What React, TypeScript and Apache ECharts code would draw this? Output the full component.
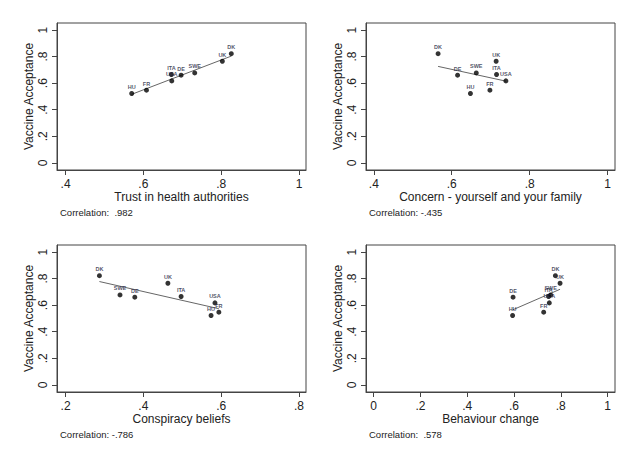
import React, { useEffect, useRef } from "react";
import * as echarts from "echarts";

const countries = ["HU", "FR", "USA", "ITA", "DE", "SWE", "UK", "DK"];
const acceptance = [0.522, 0.547, 0.617, 0.665, 0.66, 0.677, 0.765, 0.822];
const trust = [0.57, 0.608, 0.673, 0.672, 0.697, 0.732, 0.803, 0.826];
const concern = [0.648, 0.698, 0.739, 0.715, 0.615, 0.663, 0.714, 0.565];
const conspiracy = [0.574, 0.594, 0.584, 0.497, 0.378, 0.34, 0.463, 0.287];
const behaviour = [0.594, 0.727, 0.751, 0.748, 0.596, 0.757, 0.797, 0.777];

const xTitles = [
  "Trust in health authorities",
  "Concern - yourself and your family",
  "Conspiracy beliefs",
  "Behaviour change",
];
const correlations = ["Correlation:  .982", "Correlation: -.435", "Correlation: -.786", "Correlation:  .578"];
const xTicks = [
  [0.4, 0.6, 0.8, 1],
  [0.4, 0.6, 0.8, 1],
  [0.2, 0.4, 0.6, 0.8],
  [0, 0.2, 0.4, 0.6, 0.8, 1],
];
const yTicks = [0, 0.2, 0.4, 0.6, 0.8, 1];

function fitLine(xs: number[], ys: number[]) {
  const n = xs.length;
  const mx = xs.reduce((a, b) => a + b, 0) / n;
  const my = ys.reduce((a, b) => a + b, 0) / n;
  let sxy = 0, sxx = 0;
  for (let i = 0; i < n; i++) {
    sxy += (xs[i] - mx) * (ys[i] - my);
    sxx += (xs[i] - mx) * (xs[i] - mx);
  }
  const b = sxy / sxx;
  const a = my - b * mx;
  const lo = Math.min(...xs);
  const hi = Math.max(...xs);
  return [[lo, a + b * lo], [hi, a + b * hi]];
}

const fmt = (v: number) => {
  if (v === 0) return "0";
  if (v === 1) return "1";
  return v.toFixed(1).replace(/^0/, "");
};

export default function App() {
  const ref = useRef<HTMLDivElement>(null);
  useEffect(() => {
    if (!ref.current) return;
    const chart = echarts.init(ref.current, null, { renderer: "svg" });
    const xsets = [trust, concern, conspiracy, behaviour];
    const grids = [
      { left: 57, top: 23 },
      { left: 366, top: 23 },
      { left: 57, top: 245 },
      { left: 366, top: 245 },
    ];
    const xRanges = [
      [0.378, 1.018],
      [0.38, 1.019],
      [0.178, 0.818],
      [-0.033, 1.032],
    ];
    const font = "Liberation Sans, Arial, sans-serif";
    const textColor = "#222";
    const frame = "#444";

    const option: any = {
      animation: false,
      backgroundColor: "#fff",
      grid: grids.map((g) => ({
        left: g.left,
        top: g.top,
        width: 249,
        height: 147,
        show: true,
        borderColor: frame,
        borderWidth: 1,
        backgroundColor: "#fff",
        containLabel: false,
      })),
      xAxis: grids.map((_, i) => ({
        type: "value",
        gridIndex: i,
        min: xRanges[i][0],
        max: xRanges[i][1],
        name: xTitles[i],
        nameLocation: "middle",
        nameGap: 20,
        nameTextStyle: { fontFamily: font, fontSize: 12, color: textColor },
        axisLine: { show: true, onZero: false, lineStyle: { color: frame } },
        axisTick: { show: true, length: 5, customValues: xTicks[i], lineStyle: { color: frame } },
        axisLabel: {
          customValues: xTicks[i],
          formatter: (v: number) => fmt(v),
          fontFamily: font,
          fontSize: 12,
          color: textColor,
          margin: 8,
        },
        splitLine: { show: false },
      })),
      yAxis: grids.map((_, i) => ({
        type: "value",
        gridIndex: i,
        min: -0.054,
        max: 1.053,
        name: "Vaccine Acceptance",
        nameLocation: "middle",
        nameRotate: 90,
        nameGap: 22,
        nameTextStyle: { fontFamily: font, fontSize: 12, color: textColor },
        axisLine: { show: true, onZero: false, lineStyle: { color: frame } },
        axisTick: { show: true, length: 5, customValues: yTicks, lineStyle: { color: frame } },
        axisLabel: {
          customValues: yTicks,
          formatter: (v: number) => fmt(v),
          rotate: 90,
          fontFamily: font,
          fontSize: 12,
          color: textColor,
          margin: 8,
        },
        splitLine: { show: false },
      })),
      series: [
        ...xsets.map((xs, i) => ({
          type: "line",
          xAxisIndex: i,
          yAxisIndex: i,
          data: fitLine(xs, acceptance),
          showSymbol: false,
          lineStyle: { color: "#666", width: 1 },
          z: 2,
        })),
        ...xsets.map((xs, i) => ({
          type: "scatter",
          xAxisIndex: i,
          yAxisIndex: i,
          symbolSize: 5,
          itemStyle: { color: "#000" },
          data: xs.map((x, j) => ({ value: [x, acceptance[j]], name: countries[j] })),
          label: {
            show: true,
            position: "top",
            distance: 1,
            formatter: (p: any) => p.name,
            fontFamily: font,
            fontSize: 5.5,
            fontWeight: "bold",
            color: "#1c1e40",
          },
          z: 3,
        })),
      ],
      graphic: correlations.map((t, i) => ({
        type: "text",
        left: i % 2 === 0 ? 60 : 369,
        top: i < 2 ? 207 : 429,
        style: { text: t, fontFamily: font, fontSize: 9.5, fill: textColor },
      })),
    };
    chart.setOption(option);
    return () => chart.dispose();
  }, []);
  return (
    <div
      ref={ref}
      style={{ position: "absolute", left: 0, top: 0, width: 638, height: 464, background: "#fff" }}
    />
  );
}
